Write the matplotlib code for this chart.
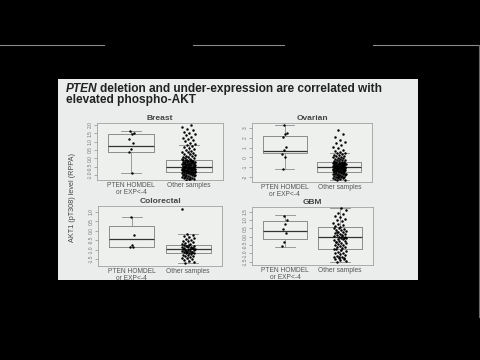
import matplotlib
matplotlib.use("Agg")
import matplotlib.pyplot as plt
from matplotlib.patches import Rectangle
from matplotlib.lines import Line2D

plt.rcParams['font.family'] = ['Liberation Sans', 'DejaVu Sans']

# data
panel_names = ["Breast", "Ovarian", "Colorectal", "GBM"]
group_labels = ["PTEN HOMDEL\nor EXP<-4", "Other samples"]
y_label = "AKT1 (pT308) level (RPPA)"

# box stats: (whislo, q1, med, q3, whishi) for HOMDEL and Other
breast_box = [(-0.86, 0.40, 0.74, 1.44, 1.66), (-1.30, -0.80, -0.50, -0.10, 0.80)]
ovarian_box = [(-1.18, 0.48, 0.68, 2.18, 3.30), (-2.30, -1.46, -1.00, -0.50, 0.45)]
colorectal_box = [(-0.88, -0.84, -0.45, 0.26, 0.74), (-1.72, -1.19, -0.98, -0.75, -0.19)]
gbm_box = [(-0.60, -0.16, 0.34, 0.94, 1.30), (-1.50, -0.74, -0.04, 0.56, 1.70)]

breast_homdel = [1.66, 1.52, 1.46, 1.16, 0.92, 0.56, 0.38, -0.88]
breast_other = [
    -1.28, -1.25, -1.22, -1.2, -1.18, -1.15, -1.13, -1.1, -1.08, -1.06, -1.04, -1.02,
    -1.0, -0.98, -0.97, -0.95, -0.93, -0.92, -0.9, -0.89, -0.88, -0.86, -0.85, -0.84,
    -0.83, -0.82, -0.81, -0.8, -1.24, -1.12,
    -0.79, -0.78, -0.77, -0.76, -0.75, -0.74, -0.73, -0.72, -0.71, -0.7, -0.69, -0.68,
    -0.67, -0.66, -0.65, -0.64, -0.63, -0.62, -0.61, -0.6, -0.59, -0.58, -0.57, -0.56,
    -0.55, -0.54, -0.53, -0.52, -0.51, -0.5, -0.74, -0.62,
    -0.49, -0.47, -0.46, -0.44, -0.43, -0.41, -0.4, -0.38, -0.37, -0.35, -0.34, -0.32,
    -0.31, -0.29, -0.28, -0.26, -0.25, -0.23, -0.22, -0.2, -0.19, -0.17, -0.16, -0.14,
    -0.13, -0.12, -0.11, -0.1, -0.45, -0.36, -0.27, -0.18,
    -0.08, -0.05, -0.02, 0.0, 0.03, 0.06, 0.1, 0.13, 0.16, 0.2, 0.24, 0.28, 0.32, 0.36,
    0.4, 0.45, 0.5, 0.55, 0.6, 0.66, 0.72, 0.8,
    0.88, 0.95, 1.02, 1.1, 1.16, 1.22, 1.3, 1.38, 1.45, 1.52, 1.6, 1.7, 1.78, 1.88, 1.98,
]

ovarian_homdel = [3.3, 2.52, 2.39, 2.05, 1.03, 0.76, 0.35, 0.07, -1.18]
ovarian_other = [
    -2.3, -2.26, -2.22, -2.18, -2.14, -2.1, -2.06, -2.02, -1.98, -1.95, -1.92, -1.89,
    -1.86, -1.83, -1.8, -1.77, -1.74, -1.71, -1.68, -1.65, -1.62, -1.59, -1.56, -1.53,
    -1.5, -1.47, -2.0, -1.7,
    -1.45, -1.43, -1.41, -1.39, -1.37, -1.35, -1.33, -1.31, -1.29, -1.27, -1.25, -1.23,
    -1.21, -1.19, -1.17, -1.15, -1.13, -1.11, -1.09, -1.07, -1.05, -1.03, -1.01, -1.0,
    -1.36, -1.24, -1.12, -1.04,
    -0.98, -0.96, -0.94, -0.92, -0.9, -0.88, -0.86, -0.84, -0.82, -0.8, -0.78, -0.76,
    -0.74, -0.72, -0.7, -0.68, -0.66, -0.64, -0.62, -0.6, -0.58, -0.56, -0.54, -0.52,
    -0.5, -0.87, -0.71, -0.61,
    -0.46, -0.42, -0.38, -0.34, -0.3, -0.26, -0.22, -0.18, -0.14, -0.1, -0.05, 0.0,
    0.05, 0.1, 0.16, 0.22, 0.28, 0.34, 0.4, 0.45,
    0.55, 0.68, 0.8, 0.95, 1.1, 1.28, 1.45, 1.6, 1.8, 2.05, 2.4, 2.75,
]

colorectal_homdel = [0.74, -0.23, -0.75, -0.84, -0.88]
colorectal_other = [
    -1.72, -1.66, -1.6, -1.55, -1.5, -1.46, -1.42, -1.38, -1.35, -1.32, -1.29, -1.26,
    -1.23, -1.2,
    -1.18, -1.16, -1.14, -1.12, -1.1, -1.08, -1.06, -1.04, -1.02, -1.0, -0.99, -1.13, -1.07,
    -0.96, -0.94, -0.92, -0.9, -0.88, -0.86, -0.84, -0.82, -0.8, -0.78, -0.76, -0.91, -0.83,
    -0.72, -0.68, -0.64, -0.6, -0.56, -0.52, -0.48, -0.44, -0.4, -0.35, -0.3, -0.25, -0.19,
    1.14,
]

gbm_homdel = [1.26, 1.0, 0.74, 0.46, 0.2, -0.3, -0.54]
gbm_other = [
    -1.5, -1.45, -1.4, -1.36, -1.32, -1.28, -1.24, -1.2, -1.15, -1.1, -1.05, -1.0, -0.95,
    -0.9, -0.85, -0.8, -0.76, -1.3, -1.22,
    -0.72, -0.68, -0.64, -0.6, -0.56, -0.52, -0.48, -0.44, -0.4, -0.36, -0.32, -0.28,
    -0.24, -0.2, -0.16, -0.12, -0.08, -0.05, -0.3, -0.1,
    -0.02, 0.02, 0.06, 0.1, 0.14, 0.18, 0.22, 0.26, 0.3, 0.34, 0.38, 0.42, 0.46, 0.5,
    0.54, 0.12, 0.28, 0.0,
    0.6, 0.66, 0.72, 0.78, 0.85, 0.92, 1.0, 1.08, 1.16, 1.25, 1.35, 1.45, 1.58, 1.7,
]

breast_ticks = [-1.0, -0.5, 0.0, 0.5, 1.0, 1.5, 2.0]
ovarian_ticks = [-2, -1, 0, 1, 2, 3]
colorectal_ticks = [-1.5, -1.0, -0.5, 0.0, 0.5, 1.0]
gbm_ticks = [-1.5, -1.0, -0.5, 0.0, 0.5, 1.0, 1.5]

# layout: axes rect (pixels from top-left) and y limits
W, H = 480, 360
layout = {
    "Breast": ((97, 123, 223, 180), (-1.30, 2.12)),
    "Ovarian": ((252, 123, 372, 182), (-2.51, 3.51)),
    "Colorectal": ((98, 206, 222, 266), (-1.86, 1.30)),
    "GBM": ((252, 207, 373, 265), (-1.70, 1.78)),
}
panel_data = {
    "Breast": (breast_box, breast_homdel, breast_other, breast_ticks, "%.1f"),
    "Ovarian": (ovarian_box, ovarian_homdel, ovarian_other, ovarian_ticks, "%d"),
    "Colorectal": (colorectal_box, colorectal_homdel, colorectal_other, colorectal_ticks, "%.1f"),
    "GBM": (gbm_box, gbm_homdel, gbm_other, gbm_ticks, "%.1f"),
}


def jitter(n, spread):
    # deterministic spread of x offsets (golden ratio sequence)
    return [((i * 0.618034 + 0.3) % 1.0 - 0.5) * 2 * spread for i in range(n)]


def px_rect(x0, y0, x1, y1):
    return [x0 / W, 1 - y1 / H, (x1 - x0) / W, (y1 - y0) / H]


fig = plt.figure(figsize=(4.8, 3.6), dpi=100)
fig.patch.set_facecolor("black")

# slide background and the grey frame lines of the video frame
fig.add_artist(Rectangle((58 / W, 1 - 280 / H), 360 / W, 201 / H,
                         transform=fig.transFigure, facecolor="#eaedeb", edgecolor="none", zorder=0))
for xa, xb in [(0, 104), (193, 284), (373, 480)]:
    fig.add_artist(Line2D([xa / W, xb / W], [1 - 45 / H] * 2, transform=fig.transFigure,
                          color="#8a8a8a", lw=0.8))
fig.add_artist(Line2D([478.5 / W] * 2, [1 - 45 / H, 1 - 317 / H], transform=fig.transFigure,
                      color="#6a6a6a", lw=0.8))

grey = "#8c8c8c"
for name in panel_names:
    (x0, y0, x1, y1), ylim = layout[name]
    box, homdel, other, ticks, fmt = panel_data[name]
    ax = fig.add_axes(px_rect(x0, y0, x1, y1))
    ax.set_facecolor("#eef0ee")
    stats = [dict(whislo=b[0], q1=b[1], med=b[2], q3=b[3], whishi=b[4], fliers=[]) for b in box]
    ax.bxp(stats, positions=[1, 2], widths=0.8, showfliers=False,
           boxprops=dict(color=grey, lw=0.7), whiskerprops=dict(color=grey, lw=0.6),
           capprops=dict(color=grey, lw=0.6), medianprops=dict(color="#333333", lw=0.9),
           capwidths=0.35)
    ax.scatter([1 + d for d in jitter(len(homdel), 0.05)], homdel, s=3, c="black",
               linewidths=0, zorder=3)
    ax.scatter([2 + d for d in jitter(len(other), 0.12)], other, s=3.2, c="black",
               linewidths=0, zorder=3)
    ax.set_xlim(0.4, 2.6)
    ax.set_ylim(*ylim)
    ax.set_xticks([])
    ax.set_yticks(ticks)
    ax.set_yticklabels([fmt % t for t in ticks], rotation=90, va="center",
                       fontsize=3.5, color="#777777")
    ax.tick_params(axis="y", length=2, width=0.5, color=grey, pad=1)
    for sp in ax.spines.values():
        sp.set_color("#a0a0a0")
        sp.set_linewidth(0.6)
    ax.set_title(name, fontsize=6, fontweight="bold", color="#444444", pad=2)
    for pos, lab in zip([1, 2], group_labels):
        ax.text(pos, -0.04, lab, transform=ax.get_xaxis_transform(), ha="center", va="top",
                fontsize=4.8, color="#555555", linespacing=1.0)

fig.text(73 / W, 1 - 197 / H, y_label, rotation=90, ha="center", va="center",
         fontsize=5.2, color="#444444")

# slide title with italic gene name
fig.canvas.draw()
r = fig.canvas.get_renderer()
tsize = 8.6
t1 = fig.text(66 / W, 1 - 89 / H, "PTEN", fontsize=tsize, fontweight="bold", style="italic",
              color="#222222", va="center")
bb = t1.get_window_extent(renderer=r)
fig.text(bb.x1 / W + 0.005, 1 - 89 / H, "deletion and under-expression are correlated with",
         fontsize=tsize, fontweight="bold", color="#222222", va="center")
fig.text(66 / W, 1 - 100.5 / H, "elevated phospho-AKT", fontsize=tsize, fontweight="bold",
         color="#222222", va="center")

fig.savefig("out.png", dpi=100, facecolor=fig.get_facecolor())
